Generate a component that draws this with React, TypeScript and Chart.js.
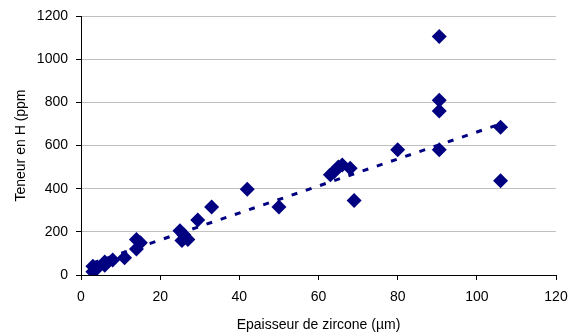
import { useEffect, useRef } from "react";
import { Chart, registerables } from "chart.js";

Chart.register(...registerables);

// Zirconia layer thickness (µm) and hydrogen content (ppm)
const thickness = [
  3, 3, 4, 6, 6, 8, 11, 14, 14, 15,
  25, 25.5, 26, 27, 29.5, 33, 42, 50,
  63, 64, 65, 66, 68, 69, 80,
  90.5, 90.5, 90.5, 90.5, 106, 106,
];
const hydrogen = [
  15, 40, 30, 45, 60, 70, 80, 120, 165, 150,
  205, 160, 185, 165, 255, 315, 397, 315,
  465, 480, 500, 510, 495, 345, 580,
  580, 760, 810, 1105, 685, 437,
];

// Linear trend line end points
const trendX = [3, 106];
const trendY = [56, 700];

const xTitle = "Epaisseur de zircone (µm)";
const yTitle = "Teneur en H (ppm";

const FONT = "'Liberation Sans', Arial, Helvetica, sans-serif";
const NAVY = "#000080";

export default function App() {
  const canvasRef = useRef<HTMLCanvasElement | null>(null);

  useEffect(() => {
    const canvas = canvasRef.current;
    if (!canvas) return;

    const chart = new Chart(canvas, {
      type: "scatter",
      data: {
        datasets: [
          {
            label: "H",
            data: thickness.map((x, i) => ({ x, y: hydrogen[i] })),
            pointStyle: "rectRot",
            pointRadius: 7.5,
            pointHoverRadius: 7.5,
            backgroundColor: NAVY,
            borderColor: NAVY,
            borderWidth: 0,
            showLine: false,
          },
          {
            label: "Tendance",
            data: trendX.map((x, i) => ({ x, y: trendY[i] })),
            showLine: true,
            pointRadius: 0,
            borderColor: NAVY,
            borderWidth: 3,
            borderDash: [6, 9],
            borderCapStyle: "butt",
            fill: false,
          },
        ],
      },
      options: {
        responsive: false,
        animation: false,
        layout: { padding: { top: 16, right: 13, left: 0, bottom: 0 } },
        plugins: {
          legend: { display: false },
          tooltip: { enabled: false },
        },
        scales: {
          x: {
            type: "linear",
            min: 0,
            max: 120,
            ticks: {
              stepSize: 20,
              color: "#000",
              padding: 9,
              font: { family: FONT, size: 14 },
              callback: (v: any) => String(v),
            },
            grid: {
              drawOnChartArea: false,
              drawTicks: true,
              tickLength: 5,
              tickColor: "#000",
              color: "#000",
            },
            border: { color: "#000", width: 1 },
            title: {
              display: true,
              text: xTitle,
              color: "#000",
              font: { family: FONT, size: 14 },
              padding: { top: 0, bottom: 2 },
            },
            afterFit: (scale: any) => {
              scale.height = 61;
              scale.paddingLeft = 0;
              scale.paddingRight = 0;
            },
          },
          y: {
            type: "linear",
            min: 0,
            max: 1200,
            ticks: {
              stepSize: 200,
              color: "#000",
              padding: 8,
              font: { family: FONT, size: 14 },
              callback: (v: any) => String(v),
            },
            grid: {
              color: "#c0c0c0",
              tickColor: "#000",
              tickLength: 5,
              lineWidth: 1,
            },
            border: { color: "#000", width: 1 },
            title: {
              display: true,
              text: yTitle,
              color: "#000",
              font: { family: FONT, size: 14 },
              padding: { top: 13, bottom: 0 },
            },
            afterFit: (scale: any) => {
              scale.width = 81;
              scale.paddingTop = 0;
              scale.paddingBottom = 0;
            },
          },
        },
      },
    });

    return () => chart.destroy();
  }, []);

  return (
    <div
      style={{
        position: "absolute",
        left: 0,
        top: 0,
        width: 569,
        height: 336,
        background: "#fff",
      }}
    >
      <canvas ref={canvasRef} width={569} height={336} />
    </div>
  );
}
